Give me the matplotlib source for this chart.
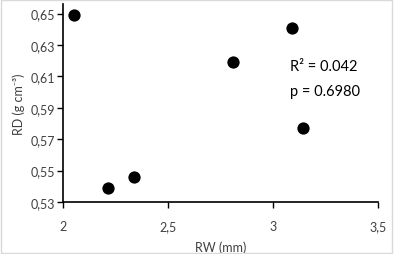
import matplotlib
matplotlib.use('Agg')
import matplotlib.pyplot as plt
from matplotlib.patches import Rectangle

plt.rcParams['font.family'] = ['Lato', 'DejaVu Sans']

# data
rw = [2.052, 2.214, 2.338, 2.81, 3.09, 3.143]
rd = [0.649, 0.539, 0.546, 0.619, 0.641, 0.577]
x_ticks = [2, 2.5, 3, 3.5]
y_ticks = [0.53, 0.55, 0.57, 0.59, 0.61, 0.63, 0.65]

fig = plt.figure(figsize=(3.94, 2.55), dpi=100)
ax = fig.add_axes([0.160, 0.204, 0.799, 0.776])

ax.scatter(rw, rd, s=78, color='black', zorder=3, linewidths=0)

ax.set_xlim(2, 3.5)
ax.set_ylim(0.53, 0.656)
ax.set_xticks(x_ticks)
ax.set_xticklabels([str(t).replace('.', ',') for t in x_ticks])
ax.set_yticks(y_ticks)
ax.set_yticklabels([('%.2f' % t).replace('.', ',') for t in y_ticks])

for side in ['top', 'right']:
    ax.spines[side].set_visible(False)
for side in ['left', 'bottom']:
    ax.spines[side].set_linewidth(1.2)
ax.tick_params(direction='out', length=4, width=1, labelsize=9, colors='black')
ax.tick_params(axis='x', pad=9)
ax.tick_params(axis='y', pad=2)

ax.set_xlabel('RW (mm)', fontsize=9, labelpad=6, color='#404040')
ax.set_ylabel('RD (g cm⁻³)', fontsize=9, labelpad=4, color='#404040')
for lbl in ax.get_xticklabels() + ax.get_yticklabels():
    lbl.set_color('#404040')

ax.text(3.08, 0.6168, 'R² = 0.042', fontsize=10.5, va='center', ha='left')
ax.text(3.08, 0.6009, 'p = 0.6980', fontsize=10.5, va='center', ha='left')

fig.patches.append(Rectangle((0.002, 0.003), 0.994, 0.992, transform=fig.transFigure,
                             fill=False, edgecolor='#d9d9d9', linewidth=1))

fig.savefig('out.png', dpi=100)
